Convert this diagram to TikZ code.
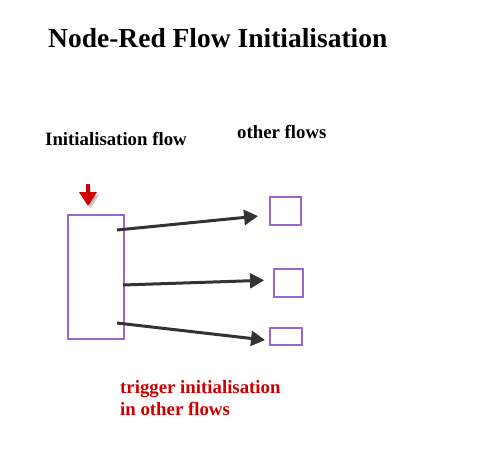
\documentclass[tikz,border=0pt]{standalone}
\usepackage{fontspec}
\setmainfont{Liberation Serif}
\usepackage{xcolor}
\usetikzlibrary{arrows.meta}
\definecolor{flowpurple}{HTML}{9966CC}
\definecolor{arrowgrey}{HTML}{333333}
\definecolor{trigred}{HTML}{CC0000}

\begin{document}
\begin{tikzpicture}[x=1pt,y=-1pt]
    \tikzstyle{heading}=[font=\bfseries\fontsize{27.5}{33}\selectfont,inner sep=0,anchor=base west]
    \tikzstyle{caption}=[font=\bfseries\fontsize{18.8}{22}\selectfont,inner sep=0,anchor=base west]
    \tikzstyle{flow}=[draw=flowpurple,line width=2pt,inner sep=0]
    \tikzstyle{link}=[draw=arrowgrey,line width=3pt,-{Triangle[length=14pt,width=15pt]}]
    \tikzstyle{trigger}=[draw=trigred,line width=4pt,-{Triangle[length=14pt,width=17pt]}]
    \tikzstyle{shade}=[preaction={draw=black!45,opacity=0.45,transform canvas={xshift=2.5pt,yshift=-2.5pt}}]

    \useasboundingbox (0,0) rectangle (494,455);

    % texts
    \node[heading] (title) at (48,47) {Node-Red Flow Initialisation};
    \node[caption] (initlabel) at (45,145) {Initialisation flow};
    \node[caption] (otherlabel) at (237,138) {other flows};
    \node[caption,text=trigred,align=left] (note) at (120,415) {trigger initialisation\\in other flows};

    % flows
    \node[flow,minimum width=56pt,minimum height=124pt] (init) at (96,277) {};
    \node[flow,minimum width=31pt,minimum height=28pt] (other1) at (285.5,211) {};
    \node[flow,minimum width=29pt,minimum height=28pt] (other2) at (288.5,283) {};
    \node[flow,minimum width=32pt,minimum height=17pt] (other3) at (286,336.5) {};

    \coordinate (trig) at (88,184);
    \coordinate (out1) at (117,230);
    \coordinate (out2) at (123,285);
    \coordinate (out3) at (117,323);

    \draw [trigger,shade,shorten >=8pt] (trig) -- (trig |- init.north);

    \draw [link,shorten >=11pt] (out1) -- ([yshift=-4pt]other1.west);
    \draw [link,shorten >=9pt] (out2) -- ([yshift=3pt]other2.west);
    \draw [link,shorten >=4pt] (out3) -- ([yshift=-4pt]other3.west);

\end{tikzpicture}
\end{document}
